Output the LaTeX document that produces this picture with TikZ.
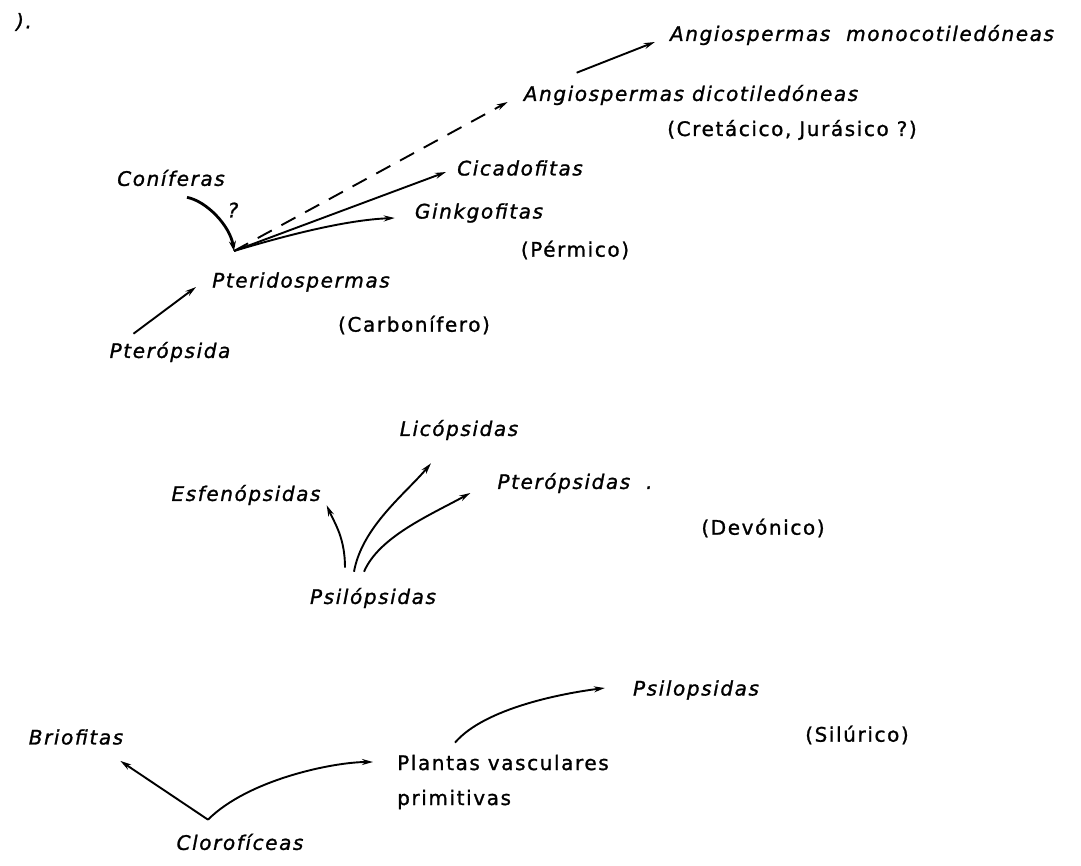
\documentclass[tikz,border=0pt]{standalone}
\usepackage{fontspec}
\newfontfamily\labelfamily[LetterSpace=8, FakeBold=1.2]{DejaVu Sans}
\usepackage{tikz}
\usetikzlibrary{arrows.meta, calc}
\newcommand{\taxonfont}{\fontsize{20}{35}\selectfont\labelfamily\itshape}
\newcommand{\periodfont}{\fontsize{20}{35}\selectfont\labelfamily\upshape}
\tikzset{
  % Label styles
  taxon/.style={font=\taxonfont, inner sep=2pt},
  period/.style={font=\periodfont, inner sep=2pt},
  % Arrow styles
  arrow/.style={-{Stealth[length=11pt, width=6pt]}, line width=1.9pt},
  dashedarrow/.style={arrow, dash pattern=on 16pt off 11pt},
  heavyarrow/.style={-{Stealth[length=10pt, width=7pt]}, line width=2.8pt}
}

\begin{document}
\begin{tikzpicture}[x=1pt, y=-1pt]
  \useasboundingbox (0,0) rectangle (1081,866);

  % Cretacico - Carbonifero
  \node[taxon] (fragment) at (24,22) {).};
  \node[taxon] (monocot) at (862,35) {Angiospermas\ \ monocotiledóneas};
  \node[taxon] (dicot) at (691,95) {Angiospermas dicotiledóneas};
  \node[period] (cretacico) at (792,130) {(Cretácico, Jurásico ?)};
  \node[taxon] (cicado) at (520,168) {Cicadofitas};
  \node[taxon] (conif) at (171,178) {Coníferas};
  \node[taxon] (query) at (233,210) {?};
  \node[taxon] (ginkgo) at (479,213) {Ginkgofitas};
  \node[period] (permico) at (575,250) {(Pérmico)};
  \node[taxon] (pterido) at (301,282) {Pteridospermas};
  \node[period] (carbon) at (414,325) {(Carbonífero)};
  \node[taxon] (pteropsida) at (170,352) {Pterópsida};

  \coordinate (fork) at (234,251);
  \draw[arrow] ($(pteropsida.north west)+(26,-6)$) -- ($(pterido.west)+(-14,5)$);
  \draw[heavyarrow] ($(conif.south)+(16,9)$) .. controls +(20,4) and +(-4,-25) .. (fork);
  \draw[dashedarrow] (fork) -- ($(dicot.west)+(-14,7)$);
  \draw[arrow] (fork) -- ($(cicado.west)+(-9,4)$);
  \draw[arrow] (fork) .. controls +(50,-15) and +(-50,2) .. ($(ginkgo.west)+(-18,5)$);
  \draw[arrow] ($(dicot.north west)+(55,-10)$) -- ($(monocot.west)+(-13,7)$);

  % Devonico
  \node[taxon] (lico) at (459,430) {Licópsidas};
  \node[taxon] (esfeno) at (246,495) {Esfenópsidas};
  \node[taxon] (pteropsidas) at (575,483) {Pterópsidas\ \ .};
  \node[period] (devonico) at (763,528) {(Devónico)};
  \node[taxon] (psilo) at (373,598) {Psilópsidas};

  \draw[arrow] ($(psilo.north)+(-28,-18)$) .. controls +(0,-30) and +(8,18) .. ($(esfeno.south east)+(4,-2)$);
  \draw[arrow] ($(psilo.north)+(-19,-14)$) .. controls +(8,-45) and +(-25,30) .. ($(lico.south)+(-28,21)$);
  \draw[arrow] ($(psilo.north)+(-9,-14)$) .. controls +(15,-35) and +(-40,22) .. ($(pteropsidas.west)+(-25,10)$);

  % Silurico
  \node[taxon] (psilo2) at (696,690) {Psilopsidas};
  \node[period] (silurico) at (857,735) {(Silúrico)};
  \node[taxon] (brio) at (76,737) {Briofitas};
  \node[period, align=left, anchor=west] (plantas) at (395,782) {Plantas vasculares\\primitivas};
  \node[taxon] (cloro) at (240,842) {Clorofíceas};

  \coordinate (vee) at ($(cloro.north)+(-32,-12)$);
  \draw[arrow] (vee) -- ($(brio.south east)+(-5,14)$);
  \draw[arrow] (vee) .. controls +(40,-40) and +(-40,0) .. ($(plantas.west)+(-22,-20)$);
  \draw[arrow] ($(plantas.north west)+(60,-10)$) .. controls +(30,-35) and +(-40,5) .. ($(psilo2.west)+(-26,-2)$);
\end{tikzpicture}
\end{document}
